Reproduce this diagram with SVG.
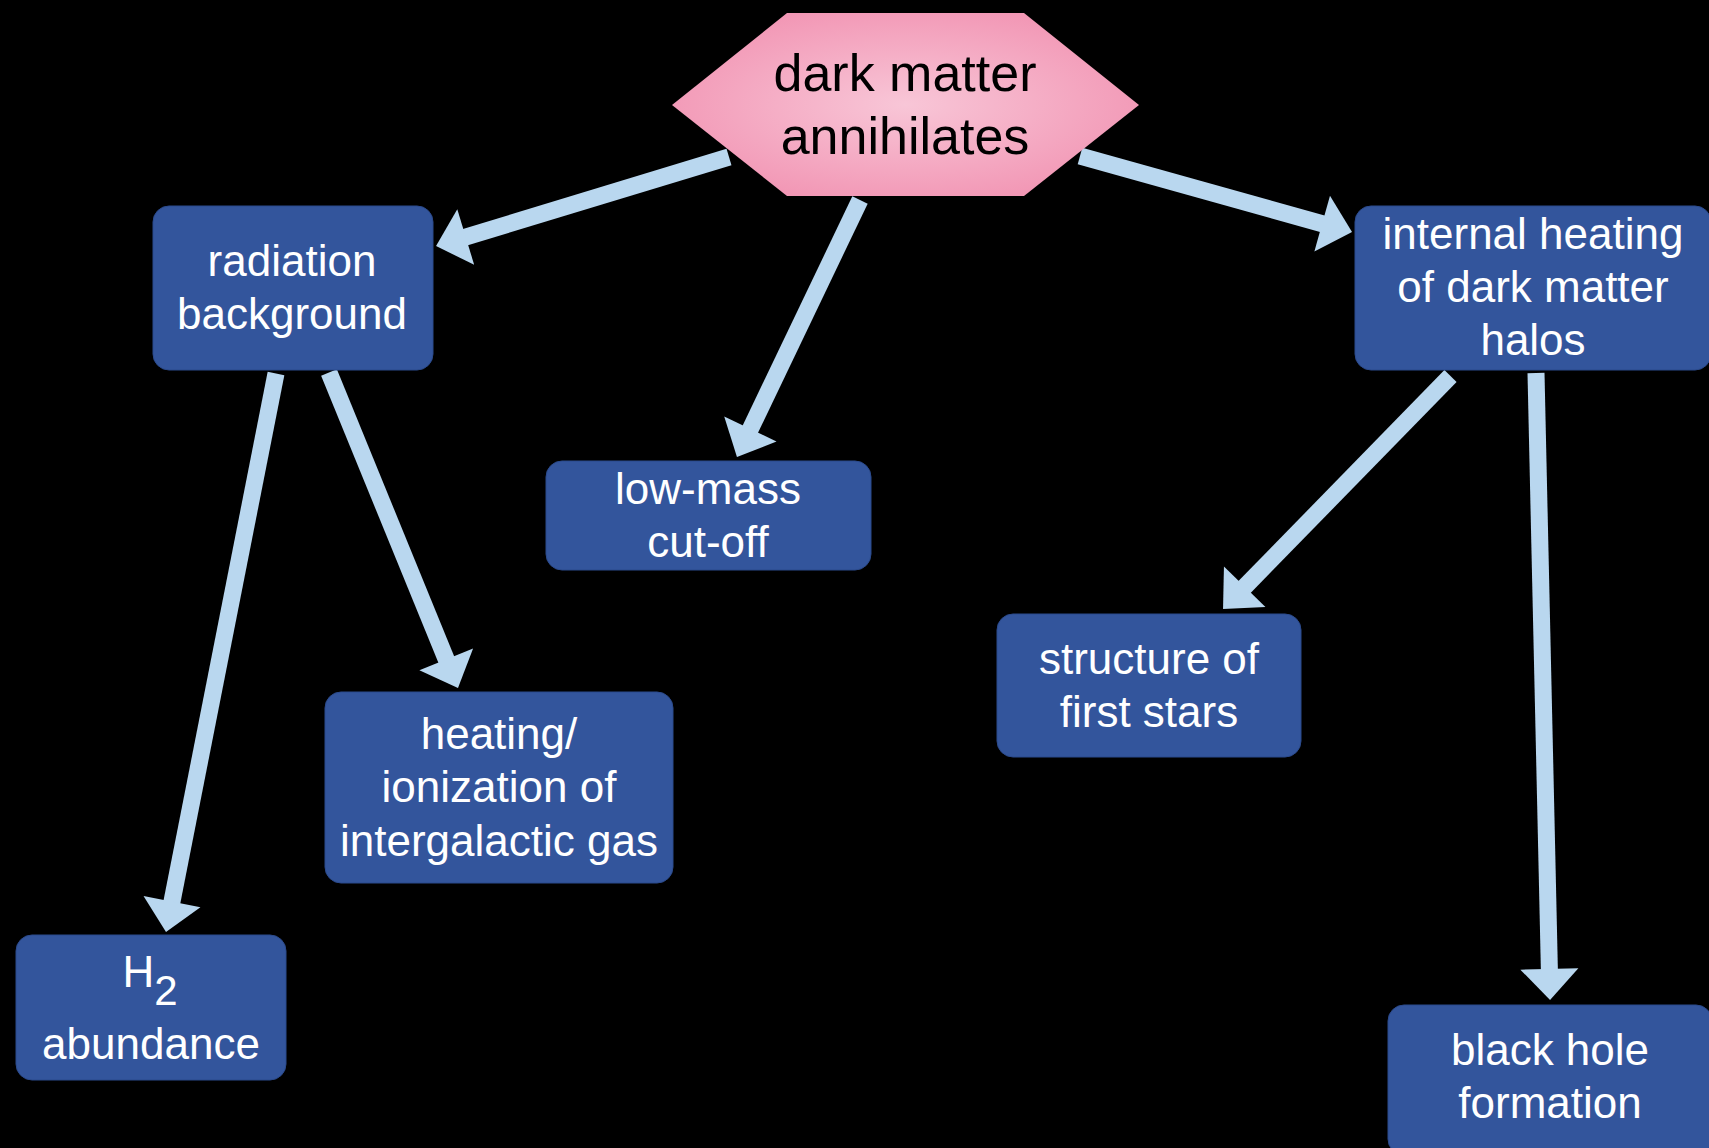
<svg xmlns="http://www.w3.org/2000/svg" width="1709" height="1148" viewBox="0 0 1709 1148">
  <style>
    .box { fill: #33559c; stroke: #2b4a8c; stroke-width: 1; }
    .lbl { font-family: "Liberation Sans", Arial, sans-serif; font-size: 44px; fill: #ffffff; text-anchor: middle; }
    .hexlbl { font-family: "Liberation Sans", Arial, sans-serif; font-size: 52px; fill: #000000; text-anchor: middle; }
    .arrow { stroke: #b9d7ef; stroke-width: 17; fill: none; stroke-linecap: butt; marker-end: url(#head); }
  </style>
  <defs>
    <radialGradient id="pink" cx="0.5" cy="0.5" r="0.55">
      <stop offset="0" stop-color="#f8c6d7"/>
      <stop offset="1" stop-color="#f297b5"/>
    </radialGradient>
    <marker id="head" markerUnits="userSpaceOnUse" orient="auto" refX="0" refY="0" markerWidth="40" markerHeight="60" overflow="visible">
      <path d="M-2,-29 L29,0 L-2,29 Z" fill="#b9d7ef"/>
    </marker>
  </defs>
  <rect x="0" y="0" width="1709" height="1148" fill="#000000"/>

  <g id="connectors">
    <line class="arrow" x1="729" y1="157" x2="463.8" y2="237.6"/>
    <line class="arrow" x1="860" y1="200" x2="749.5" y2="430.8"/>
    <line class="arrow" x1="1080" y1="156" x2="1324.1" y2="224.2"/>
    <line class="arrow" x1="276" y1="373.5" x2="171.6" y2="903.5"/>
    <line class="arrow" x1="329" y1="372.5" x2="447" y2="661.2"/>
    <line class="arrow" x1="1450.5" y1="376" x2="1243.3" y2="588.3"/>
    <line class="arrow" x1="1536" y1="373" x2="1549.4" y2="971"/>
  </g>

  <g id="dark-matter">
    <polygon points="787,13 1024,13 1139,105 1024,196 787,196 672,105" fill="url(#pink)"/>
    <text class="hexlbl" x="905" y="91">dark matter</text>
    <text class="hexlbl" x="905" y="154">annihilates</text>
  </g>

  <g id="radiation">
    <rect class="box" x="153" y="206" width="280" height="164" rx="16"/>
    <text class="lbl" x="292" y="276">radiation</text>
    <text class="lbl" x="292" y="329">background</text>
  </g>

  <g id="internal-heating">
    <rect class="box" x="1355" y="206" width="356" height="164" rx="16"/>
    <text class="lbl" x="1533" y="249">internal heating</text>
    <text class="lbl" x="1533" y="302">of dark matter</text>
    <text class="lbl" x="1533" y="355">halos</text>
  </g>

  <g id="low-mass">
    <rect class="box" x="546" y="461" width="325" height="109" rx="16"/>
    <text class="lbl" x="708" y="504">low-mass</text>
    <text class="lbl" x="708" y="557">cut-off</text>
  </g>

  <g id="structure">
    <rect class="box" x="997" y="614" width="304" height="143" rx="16"/>
    <text class="lbl" x="1149" y="674">structure of</text>
    <text class="lbl" x="1149" y="727">first stars</text>
  </g>

  <g id="heating-ionization">
    <rect class="box" x="325" y="692" width="348" height="191" rx="16"/>
    <text class="lbl" x="499" y="749">heating/</text>
    <text class="lbl" x="499" y="802">ionization of</text>
    <text class="lbl" x="499" y="856">intergalactic gas</text>
  </g>

  <g id="h2-abundance">
    <rect class="box" x="16" y="935" width="270" height="145" rx="16"/>
    <text class="lbl" x="150" y="987">H<tspan font-size="42" dy="18">2</tspan></text>
    <text class="lbl" x="151" y="1059">abundance</text>
  </g>

  <g id="black-hole">
    <rect class="box" x="1388" y="1005" width="324" height="150" rx="16"/>
    <text class="lbl" x="1550" y="1065">black hole</text>
    <text class="lbl" x="1550" y="1118">formation</text>
  </g>
</svg>
